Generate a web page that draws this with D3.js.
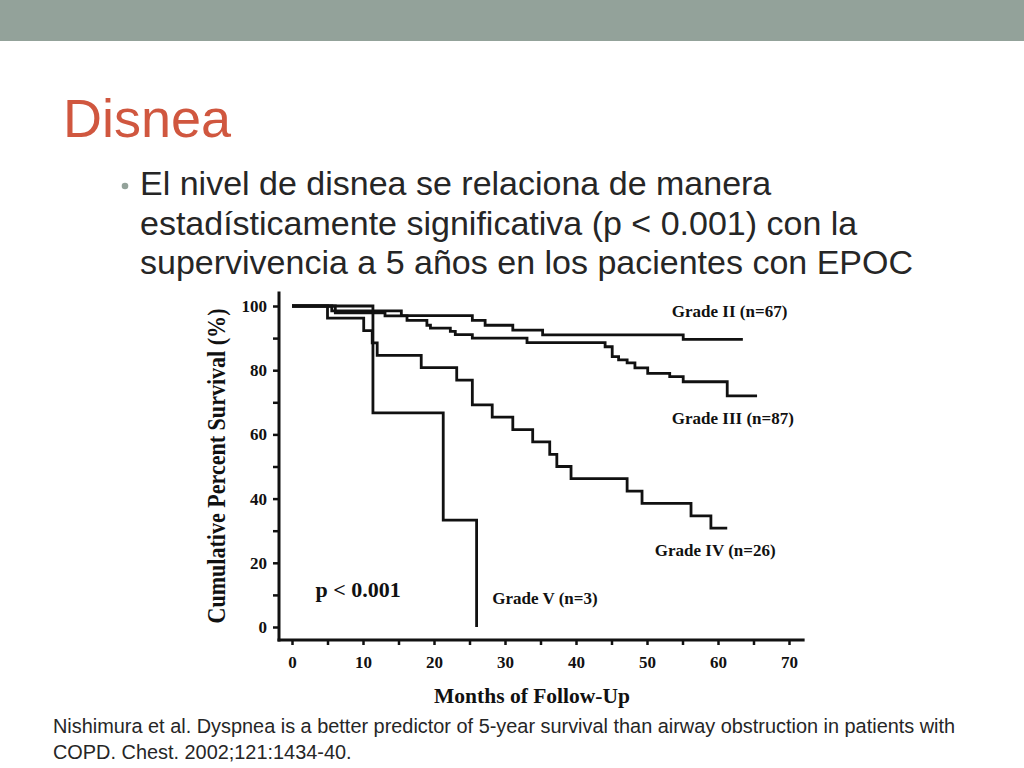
<!DOCTYPE html>
<html>
<head>
<meta charset="utf-8">
<script src="https://cdn.jsdelivr.net/npm/d3@7/dist/d3.min.js"></script>
<style>
  body { margin: 0; background: #fff; }
  svg { display: block; }
  .slide-text { font-family: "Liberation Sans", Arial, sans-serif; }
  .fig-text { font-family: "Liberation Serif", "Times New Roman", serif; font-weight: bold; fill: #111; }
</style>
</head>
<body>
<div id="slide"></div>
<script>
// Survival curves: [month, cumulative percent survival]
const gradeII = [[0, 100], [5.6, 98.5], [15.4, 97.0], [25.4, 95.5], [27.2, 94.0], [31.1, 92.5],
  [35.3, 91.0], [55.1, 89.6], [63.5, 89.6]];
const gradeIII = [[0, 100], [6.1, 97.9], [13.1, 96.9], [16.2, 95.5], [19.0, 94.0], [19.5, 93.1],
  [22.3, 92.1], [23.0, 91.1], [25.4, 90.0], [33.1, 88.6], [44.1, 87.3], [45.1, 84.2], [46.0, 83.2],
  [47.2, 82.3], [48.3, 80.7], [50.1, 79.0], [53.2, 78.0], [55.1, 76.4], [61.3, 72.0], [65.5, 72.0]];
const gradeIV = [[0, 100], [5.0, 96.2], [10.1, 92.3], [11.3, 88.5], [12.0, 84.6], [18.2, 80.8],
  [23.2, 76.9], [25.4, 69.2], [28.2, 65.4], [31.1, 61.5], [33.9, 57.7], [36.3, 53.8], [37.3, 50.0],
  [39.3, 46.2], [47.2, 42.3], [49.3, 38.5], [56.2, 34.6], [59.0, 30.8], [61.3, 30.8]];
const gradeV = [[0, 100], [11.4, 66.7], [21.3, 33.3], [26.0, 0]];

const curveNames = ["Grade II (n=67)", "Grade III (n=87)", "Grade IV (n=26)", "Grade V (n=3)"];
const xTickValues = [0, 5, 10, 15, 20, 25, 30, 35, 40, 45, 50, 55, 60, 65, 70];
const yTickValues = [0, 10, 20, 30, 40, 50, 60, 70, 80, 90, 100];
const pText = "p < 0.001";
const xTitle = "Months of Follow-Up";
const yTitle = "Cumulative Percent Survival (%)";

const slideTitle = "Disnea";
const bulletLines = [
  "El nivel de disnea se relaciona de manera",
  "estadísticamente significativa (p < 0.001) con la",
  "supervivencia a 5 años en los pacientes con EPOC"
];
const citeLines = [
  "Nishimura et al. Dyspnea is a better predictor of 5-year survival than airway obstruction in patients with",
  "COPD. Chest. 2002;121:1434-40."
];

const W = 1024, H = 768;
const svg = d3.select("#slide").append("svg").attr("width", W).attr("height", H);

// slide frame
svg.append("rect").attr("x", 0).attr("y", 0).attr("width", W).attr("height", 41).attr("fill", "#93a29a");

svg.append("text").attr("class", "slide-text")
  .attr("x", 63).attr("y", 137)
  .style("font-size", "54px").attr("fill", "#d0573f")
  .text(slideTitle);

svg.append("circle").attr("cx", 125).attr("cy", 186).attr("r", 3.3).attr("fill", "#93a29a");

svg.append("g").selectAll("text")
  .data(bulletLines)
  .enter()
  .append("text")
  .attr("class", "slide-text")
  .attr("x", 140)
  .attr("y", (d, i) => 195 + i * 39.5)
  .style("font-size", "34px")
  .attr("fill", "#262626")
  .text((d) => d);

svg.append("g").selectAll("text")
  .data(citeLines)
  .enter()
  .append("text")
  .attr("class", "slide-text")
  .attr("x", 53)
  .attr("y", (d, i) => 733 + i * 26)
  .style("font-size", "19.9px")
  .attr("fill", "#262626")
  .text((d) => d);

// figure
const x = d3.scaleLinear().domain([0, 70]).range([292, 789]);
const y = d3.scaleLinear().domain([0, 100]).range([627, 306]);
const axisX = 279, axisY = 640;

const fig = svg.append("g");

const yAxis = fig.append("g")
  .attr("transform", `translate(${axisX},0)`)
  .call(d3.axisLeft(y).tickValues(yTickValues).tickSize(6).tickPadding(6)
    .tickFormat((d) => (d % 20 === 0 ? d : "")));
yAxis.select(".domain").remove();
yAxis.selectAll("line").attr("stroke", "#111").attr("stroke-width", 2.5);
yAxis.selectAll("text").attr("class", "fig-text").attr("fill", "#111")
  .style("font-size", "17px");

const xAxis = fig.append("g")
  .attr("transform", `translate(0,${axisY})`)
  .call(d3.axisBottom(x).tickValues(xTickValues).tickSize(5).tickPadding(11)
    .tickFormat((d) => (d % 10 === 0 ? d : "")));
xAxis.select(".domain").remove();
xAxis.selectAll("line").attr("stroke", "#111").attr("stroke-width", 2.5);
xAxis.selectAll("text").attr("class", "fig-text").attr("fill", "#111")
  .style("font-size", "17px");

// axis lines, a little longer than the data range as in the figure
fig.append("line")
  .attr("x1", axisX).attr("x2", axisX)
  .attr("y1", y(104.5)).attr("y2", axisY + 1.5)
  .attr("stroke", "#111").attr("stroke-width", 3);
fig.append("line")
  .attr("x1", axisX - 1.5).attr("x2", x(72.2))
  .attr("y1", axisY).attr("y2", axisY)
  .attr("stroke", "#111").attr("stroke-width", 3);

const line = d3.line()
  .curve(d3.curveStepAfter)
  .x((d) => x(d[0]))
  .y((d) => y(d[1]));

fig.selectAll(".km")
  .data([gradeII, gradeIII, gradeIV, gradeV])
  .enter()
  .append("path")
  .attr("class", "km")
  .attr("d", line)
  .attr("fill", "none")
  .attr("stroke", "#111")
  .attr("stroke-width", 2.8)
  .attr("stroke-linejoin", "miter");

// curve labels, placed in data coordinates
const labelAt = [[53.5, 96.6], [53.5, 63.2], [51.1, 22.1], [28.2, 7.3]];
fig.selectAll(".curve-label")
  .data(curveNames)
  .enter()
  .append("text")
  .attr("class", "fig-text curve-label")
  .attr("x", (d, i) => x(labelAt[i][0]))
  .attr("y", (d, i) => y(labelAt[i][1]))
  .style("font-size", "17px")
  .text((d) => d);

fig.append("text").attr("class", "fig-text")
  .attr("x", x(3.3)).attr("y", y(9.4))
  .style("font-size", "22px")
  .text(pText);

fig.append("text").attr("class", "fig-text")
  .attr("x", 532).attr("y", 703)
  .attr("text-anchor", "middle")
  .style("font-size", "21.5px")
  .text(xTitle);

fig.append("text").attr("class", "fig-text")
  .attr("transform", "translate(225,466) rotate(-90)")
  .attr("text-anchor", "middle")
  .attr("textLength", 315)
  .attr("lengthAdjust", "spacingAndGlyphs")
  .style("font-size", "26px")
  .text(yTitle);
</script>
</body>
</html>
